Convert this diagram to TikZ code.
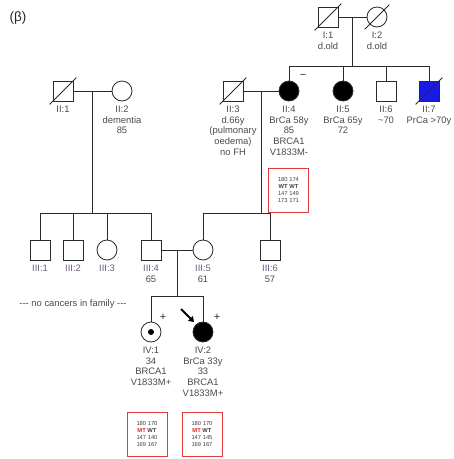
\documentclass[tikz,border=0pt]{standalone}
\usepackage{fontspec}
\setmainfont{Liberation Sans}
\usetikzlibrary{arrows.meta,positioning,calc}
\definecolor{lblgray}{HTML}{4A4A4A}
\definecolor{genpurple}{HTML}{6E5A80}
\definecolor{linegray}{HTML}{2A2A2A}
\definecolor{boxred}{HTML}{E03A3A}
\definecolor{mtred}{HTML}{E02020}
\definecolor{prblue}{HTML}{1A1AE6}
\begin{document}
\begin{tikzpicture}[x=1pt,y=-1pt,
  every path/.style={line width=0.8pt},
  male/.style={draw=linegray,rectangle,minimum size=20pt,inner sep=0pt,line width=0.8pt},
  female/.style={draw=linegray,circle,minimum size=20pt,inner sep=0pt,line width=0.8pt},
  affected/.style={fill=black},
  lbl/.style={font=\fontsize{9.4}{10.8}\selectfont,text=lblgray,align=center,inner sep=0pt,anchor=north},
  gbox/.style={draw=boxred,line width=1pt,minimum width=40pt,minimum height=44pt,inner sep=0pt,
    align=center,font=\fontsize{5.8}{6.8}\selectfont,text=black!75},
  conn/.style={draw=linegray,line width=0.8pt},
  sign/.style={font=\fontsize{11}{11}\selectfont,text=linegray,inner sep=0pt},
]
\useasboundingbox (0,0) rectangle (454,459);

% panel tag
\node[font=\fontsize{13.5}{13.5}\selectfont,text=black!85] (tag) at (18,18) {(β)};

% generation I
\node[male]   (i1) at (328,17) {};
\node[female] (i2) at (377,17) {};
\draw[conn] ([shift={(-3,3)}]i1.south west) -- ([shift={(3,-3)}]i1.north east);
\draw[conn] ([shift={(-5,5)}]i2.south west) -- ([shift={(5,-5)}]i2.north east);
\node[lbl,below=4pt of i1] (i1l) {I:1\\d.old};
\node[lbl,below=4pt of i2] (i2l) {I:2\\d.old};

% generation II
\node[male]   (ii1) at (63,91) {};
\node[female] (ii2) at (122,91) {};
\node[male]   (ii3) at (233,91) {};
\node[female,affected] (ii4) at (289,91) {};
\node[female,affected] (ii5) at (343,91) {};
\node[male]   (ii6) at (386,91) {};
\node[male,fill=prblue] (ii7) at (429,91) {};
\draw[conn] ([shift={(-3,3)}]ii1.south west) -- ([shift={(3,-3)}]ii1.north east);
\draw[conn] ([shift={(-3,3)}]ii3.south west) -- ([shift={(3,-3)}]ii3.north east);
\draw[conn] ([shift={(-3,3)}]ii7.south west) -- ([shift={(3,-3)}]ii7.north east);
\node[sign] (ii4s) at (303,76) {−};

\node[lbl,below=4pt of ii1] (ii1l) {II:1};
\node[lbl,below=4pt of ii2] (ii2l) {II:2\\dementia\\85};
\node[lbl,below=4pt of ii3] (ii3l) {II:3\\d.66y\\(pulmonary\\oedema)\\no FH};
\node[lbl,below=4pt of ii4] (ii4l) {II:4\\BrCa 58y\\85\\BRCA1\\V1833M-};
\node[lbl,below=4pt of ii5] (ii5l) {II:5\\BrCa 65y\\72};
\node[lbl,below=4pt of ii6] (ii6l) {II:6\\\textasciitilde70};
\node[lbl,below=4pt of ii7] (ii7l) {II:7\\PrCa >70y};

\node[gbox] (g4) at (288.5,190) {180 174\\\textbf{WT WT}\\147 149\\173 171};

% generation III
\node[male]   (iii1) at (40,250) {};
\node[male]   (iii2) at (73,250) {};
\node[female] (iii3) at (107,250) {};
\node[male]   (iii4) at (151,250) {};
\node[female] (iii5) at (203,250) {};
\node[male]   (iii6) at (270,250) {};
\node[lbl,below=4pt of iii1] (iii1l) {\textcolor{genpurple}{III:1}};
\node[lbl,below=4pt of iii2] (iii2l) {\textcolor{genpurple}{III:2}};
\node[lbl,below=4pt of iii3] (iii3l) {\textcolor{genpurple}{III:3}};
\node[lbl,below=4pt of iii4] (iii4l) {\textcolor{genpurple}{III:4}\\65};
\node[lbl,below=4pt of iii5] (iii5l) {\textcolor{genpurple}{III:5}\\61};
\node[lbl,below=4pt of iii6] (iii6l) {\textcolor{genpurple}{III:6}\\57};

\node[font=\fontsize{9.4}{11}\selectfont,text=lblgray] (note) at (73,304) {{-}{-}{-} no cancers in family {-}{-}{-}};

% generation IV
\node[female] (iv1) at (151,332) {};
\fill[black] (iv1.center) circle (3pt);
\node[female,affected] (iv2) at (203,332) {};
\node[sign] (iv1s) at (163,317) {+};
\node[sign] (iv2s) at (217,317) {+};
\coordinate (pa) at (181,309);
\coordinate (pb) at (194,322);
\draw[line width=2pt,-{Triangle[length=5pt,width=6.5pt]}] (pa) -- (pb);

\node[lbl,below=4pt of iv1] (iv1l) {IV:1\\34\\BRCA1\\V1833M+};
\node[lbl,below=4pt of iv2] (iv2l) {IV:2\\BrCa 33y\\33\\BRCA1\\V1833M+};

\node[gbox] (g41) at (147,434) {180 170\\\textbf{\textcolor{mtred}{MT} WT}\\147 140\\169 167};
\node[gbox] (g42) at (202,434) {180 170\\\textbf{\textcolor{mtred}{MT} WT}\\147 145\\169 167};

% couples and descent lines
\draw[conn] (i1.east) -- (i2.west);
\coordinate (m1) at ($(i1.east)!0.5!(i2.west)$);
\draw[conn] (m1) -- ++(0,50);
\draw[conn] (ii4.north) -- ++(0,-14) -| (ii7.north);
\draw[conn] (ii5.north) -- ++(0,-14);
\draw[conn] (ii6.north) -- ++(0,-14);

\draw[conn] (ii1.east) -- (ii2.west);
\coordinate (m2) at ($(ii1.east)!0.5!(ii2.west)$);
\draw[conn] (m2) -- ++(0,123);
\draw[conn] (iii1.north) -- ++(0,-26) -| (iii4.north);
\draw[conn] (iii2.north) -- ++(0,-26);
\draw[conn] (iii3.north) -- ++(0,-26);

\draw[conn] (ii3.east) -- (ii4.west);
\coordinate (m3) at ($(ii3.east)!0.5!(ii4.west)$);
\draw[conn] (m3) -- ++(0,123);
\draw[conn] (iii5.north) -- ++(0,-26) -| (iii6.north);

\draw[conn] (iii4.east) -- (iii5.west);
\coordinate (m4) at ($(iii4.east)!0.5!(iii5.west)$);
\draw[conn] (m4) -- ++(0,47);
\draw[conn] (iv1.north) -- ++(0,-25) -| (iv2.north);
\end{tikzpicture}
\end{document}
